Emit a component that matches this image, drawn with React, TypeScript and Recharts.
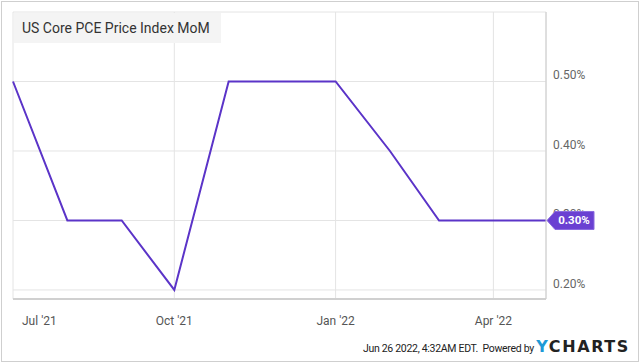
import { LineChart, Line, XAxis, YAxis, CartesianGrid, ReferenceArea, LabelList } from "recharts";

const MONTHS = [
	"2021-07-01", "2021-08-01", "2021-09-01", "2021-10-01", "2021-11-01", "2021-12-01",
	"2022-01-01", "2022-02-01", "2022-03-01", "2022-04-01", "2022-05-01",
];
const VALUES = [0.5, 0.3, 0.3, 0.2, 0.5, 0.5, 0.5, 0.4, 0.3, 0.3, 0.3];
const X_TICKS = ["2021-07-01", "2021-10-01", "2022-01-01", "2022-04-01"];
const X_TICK_LABELS = ["Jul '21", "Oct '21", "Jan '22", "Apr '22"];
const Y_TICKS = [0.2, 0.3, 0.4, 0.5];

const toTime = (d: string) => new Date(d + "T00:00:00Z").getTime();
const data = MONTHS.map((m, i) => ({ t: toTime(m), v: VALUES[i] }));
const xTicks = X_TICKS.map(toTime);

const LINE = "#5b34c8";
const FLAG = "#6a40d2";
const FONT = "Roboto, 'Noto Sans', sans-serif";

function XTick(props: any) {
	const { x, y, payload } = props;
	const i = xTicks.indexOf(payload.value);
	const label = X_TICK_LABELS[i] ?? "";
	const first = i === 0;
	return (
		<text x={first ? x + 9 : x} y={y + 24} textAnchor={first ? "start" : "middle"} fontSize={12} fill="#555" fontFamily={FONT}>
			{label}
		</text>
	);
}

function YTick(props: any) {
	const { x, y, payload } = props;
	return (
		<text x={x} y={y - 2} textAnchor="start" fontSize={12} fill="#666" fontFamily={FONT}>
			{payload.value.toFixed(2)}%
		</text>
	);
}

function EndFlag(props: any) {
	const { x, y, index, value } = props;
	if (index !== VALUES.length - 1) return null;
	const h = 9;
	return (
		<g>
			<polygon
				points={`${x + 1},${y} ${x + 9},${y - h} ${x + 48},${y - h} ${x + 48},${y + h} ${x + 9},${y + h}`}
				fill={FLAG}
				stroke="#8a6ae0"
				strokeWidth={1}
			/>
			<text x={x + 28} y={y + 4} textAnchor="middle" fontSize={11.5} fontWeight="bold" fill="#fff" fontFamily={FONT}>
				{value.toFixed(2)}%
			</text>
		</g>
	);
}

export default function App() {
	return (
		<div style={{ position: "absolute", left: 0, top: 0, width: 640, height: 363, background: "#fff", fontFamily: FONT }}>
			<div style={{ position: "absolute", left: 1, top: 1, width: 636, height: 359, border: "1px solid #cfcfcf" }} />
			<LineChart width={640} height={363} data={data} margin={{ top: 12, right: 34, bottom: 34, left: 13 }}>
				<CartesianGrid stroke="#e4e4e4" strokeWidth={1} />
				<ReferenceArea fill="none" stroke="#dcdcdc" strokeWidth={1} ifOverflow="visible" />
				<XAxis
					dataKey="t"
					type="number"
					scale="time"
					domain={["dataMin", "dataMax"]}
					ticks={xTicks}
					interval={0}
					tick={<XTick />}
					tickLine={false}
					axisLine={{ stroke: "#d0d0d0", strokeWidth: 2 }}
					tickSize={0}
					height={30}
				/>
				<YAxis
					orientation="right"
					domain={[0.187, 0.6]}
					ticks={Y_TICKS}
					interval={0}
					tick={<YTick />}
					tickLine={false}
					axisLine={{ stroke: "#cccccc" }}
					tickSize={0}
					tickMargin={7}
					width={60}
					allowDataOverflow
				/>
				<Line type="linear" dataKey="v" stroke={LINE} strokeWidth={2} dot={false} isAnimationActive={false}>
					<LabelList dataKey="v" content={<EndFlag />} />
				</Line>
			</LineChart>
			<div
				style={{
					position: "absolute",
					left: 14,
					top: 13,
					width: 207,
					height: 30,
					background: "#f4f4f4",
					color: "#333",
					fontSize: 14,
					lineHeight: "30px",
					paddingLeft: 8,
					boxSizing: "border-box",
				}}
			>
				US Core PCE Price Index MoM
			</div>
			<div
				style={{
					position: "absolute",
					right: 10,
					top: 337,
					display: "flex",
					alignItems: "baseline",
					color: "#222",
					fontSize: 10.5,
					whiteSpace: "pre",
				}}
			>
				<span style={{ letterSpacing: -0.3 }}>Jun 26 2022, 4:32AM EDT.  Powered by </span>
				<span style={{ fontSize: 16, fontWeight: 700, letterSpacing: 1.6, color: "#222", fontFamily: "'DejaVu Sans', sans-serif" }}>
					<span style={{ color: "#1e9ad6" }}>Y</span>CHARTS
				</span>
			</div>
		</div>
	);
}
